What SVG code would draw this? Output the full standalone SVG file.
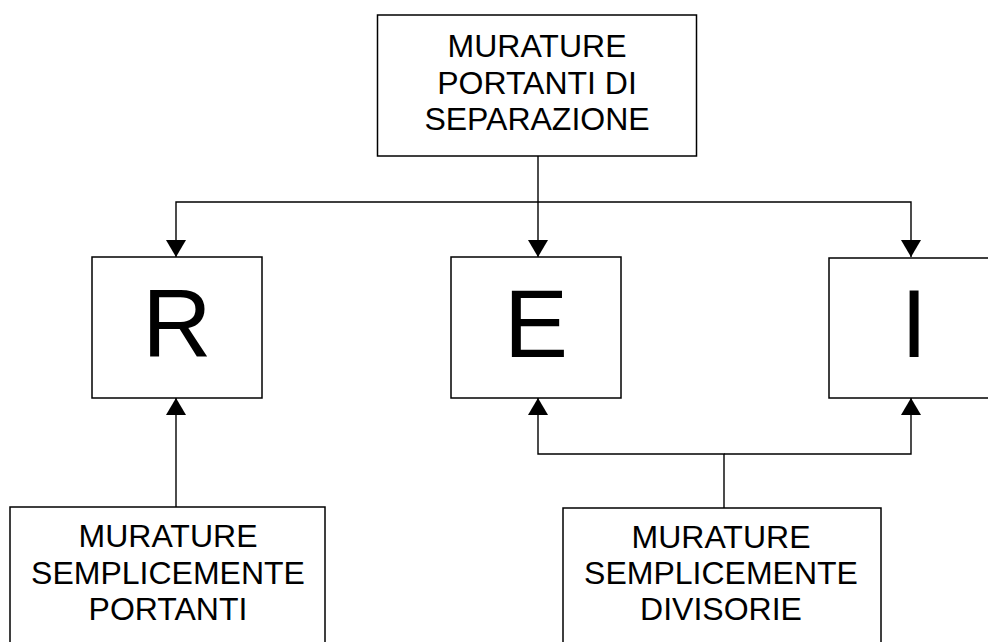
<svg xmlns="http://www.w3.org/2000/svg" width="988" height="642" viewBox="0 0 988 642">
<style>
.box{fill:#fff;stroke:#000;stroke-width:1.5}
.lbl{font-family:"Liberation Sans",Arial,sans-serif;font-size:32px;fill:#000;text-anchor:middle}
.big{font-family:"Liberation Sans",Arial,sans-serif;font-size:96px;fill:#000;text-anchor:middle}
.con{fill:none;stroke:#000;stroke-width:1.4}
</style>
<defs>
<marker id="arr" markerUnits="userSpaceOnUse" markerWidth="17" markerHeight="20" viewBox="0 0 17 20" refX="17" refY="10" orient="auto">
<path d="M0,0 L17,10 L0,20 z" fill="#000"/>
</marker>
</defs>
<rect width="988" height="642" fill="#fff"/>
<g id="connectors">
<path class="con" d="M538,156 V257" marker-end="url(#arr)"/>
<path class="con" d="M538,202 H176 V257" marker-end="url(#arr)"/>
<path class="con" d="M538,202 H911 V257" marker-end="url(#arr)"/>
<path class="con" d="M176,507 V398" marker-end="url(#arr)"/>
<path class="con" d="M724,508 V454 H538 V398" marker-end="url(#arr)"/>
<path class="con" d="M724,454 H911 V398" marker-end="url(#arr)"/>
</g>
<g id="top">
<rect class="box" x="377.5" y="15" width="319" height="141"/>
<text class="lbl" x="537" y="57">MURATURE</text>
<text class="lbl" x="537" y="93.5">PORTANTI DI</text>
<text class="lbl" x="537" y="130">SEPARAZIONE</text>
</g>
<g id="R">
<rect class="box" x="92" y="257" width="170" height="141"/>
<text class="big" x="177" y="357">R</text>
</g>
<g id="E">
<rect class="box" x="451" y="257" width="170" height="141"/>
<text class="big" x="536" y="357">E</text>
</g>
<g id="I">
<rect class="box" x="829" y="258" width="170" height="140"/>
<text class="big" x="914" y="357">I</text>
</g>
<g id="portanti">
<rect class="box" x="10" y="507" width="315" height="150"/>
<text class="lbl" x="168" y="547">MURATURE</text>
<text class="lbl" x="168" y="583.5">SEMPLICEMENTE</text>
<text class="lbl" x="168" y="620">PORTANTI</text>
</g>
<g id="divisorie">
<rect class="box" x="563" y="508" width="318" height="150"/>
<text class="lbl" x="721" y="548">MURATURE</text>
<text class="lbl" x="721" y="584">SEMPLICEMENTE</text>
<text class="lbl" x="721" y="620">DIVISORIE</text>
</g>
</svg>
